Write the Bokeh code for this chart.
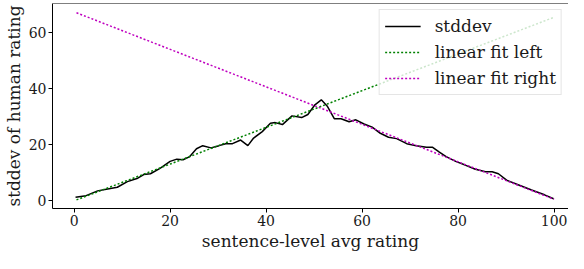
from bokeh.plotting import figure
from bokeh.models import Range1d, FixedTicker, Span
from bokeh.embed import file_html
from bokeh.resources import INLINE

# stddev curve
avg_rating = [0.3, 2.5, 4.9, 7.0, 9.0, 11.1, 13.1, 14.5, 15.9, 17.9, 20.0, 21.4, 22.7,
              24.1, 25.5, 26.8, 28.5, 30.2, 31.6, 33.0, 34.7, 36.2, 37.4, 39.2, 40.9,
              41.9, 43.4, 45.4, 47.4, 48.7, 50.1, 51.5, 52.8, 54.2, 55.6, 57.3, 58.7,
              60.4, 62.1, 63.8, 65.5, 67.2, 69.3, 71.3, 73.4, 74.7, 76.1, 77.5, 79.5,
              81.6, 83.6, 85.7, 87.1, 88.4, 90.1, 92.5, 95.3, 98.0, 99.9]
stddev = [1.3, 1.9, 3.6, 4.3, 4.9, 6.9, 8.0, 9.4, 9.7, 11.6, 14.1, 14.9, 14.7,
          15.8, 18.6, 19.7, 18.9, 19.7, 20.4, 20.4, 21.7, 19.7, 22.4, 24.7, 27.7,
          27.9, 27.2, 30.3, 29.7, 30.8, 34.1, 36.0, 33.6, 29.3, 29.3, 28.2, 28.9,
          27.4, 26.3, 24.1, 22.7, 22.2, 20.4, 19.7, 19.1, 19.1, 17.4, 15.8, 14.1,
          12.7, 11.3, 10.4, 10.4, 9.7, 7.4, 5.8, 3.9, 2.2, 0.8]

# linear fits
fit_x = [0.5, 100.0]
fit_left = [0.4, 65.4]
fit_right = [67.0, 0.6]

x_ticks = [0, 20, 40, 60, 80, 100]
y_ticks = [0, 20, 40, 60]

FONT = "DejaVu Serif"

p = figure(width=568, height=253, output_backend="svg", toolbar_location=None,
           x_range=Range1d(-4.5, 103.0), y_range=Range1d(-2.67, 70.3),
           min_border_left=52, min_border_right=0, min_border_top=3,
           min_border_bottom=45)
p.outline_line_color = None
p.grid.visible = False
p.background_fill_color = "white"

p.line(avg_rating, stddev, line_color="black", line_width=1.5, legend_label="stddev")
p.line(fit_x, fit_left, line_color="#008000", line_width=1.5, line_dash="2 2",
       legend_label="linear fit left")
p.line(fit_x, fit_right, line_color="#bf00bf", line_width=1.5, line_dash="2 2",
       legend_label="linear fit right")

p.add_layout(Span(location=p.y_range.end, dimension="width", line_color="black",
                  line_width=1.2))

for ax in (p.xaxis[0], p.yaxis[0]):
    ax.axis_line_color = "black"
    ax.axis_line_width = 1
    ax.major_tick_line_color = "black"
    ax.major_tick_in = 0
    ax.major_tick_out = 4
    ax.minor_tick_line_color = None
    ax.major_label_text_font = FONT
    ax.major_label_text_font_size = "14px"
    ax.major_label_text_color = "#1a1a1a"
    ax.axis_label_text_font = FONT
    ax.axis_label_text_font_size = "17px"
    ax.axis_label_text_font_style = "normal"
    ax.axis_label_text_color = "#1a1a1a"
    ax.major_label_standoff = 2
    ax.axis_label_standoff = 2

p.xaxis.ticker = FixedTicker(ticks=x_ticks)
p.yaxis.ticker = FixedTicker(ticks=y_ticks)
p.xaxis.axis_label = "sentence-level avg rating"
p.yaxis.axis_label = "stddev of human rating"

lg = p.legend[0]
lg.location = "top_right"
lg.margin = 6
lg.padding = 5
lg.spacing = 4
lg.glyph_width = 36
lg.glyph_height = 22
lg.label_height = 22
lg.label_standoff = 14
lg.label_text_font = FONT
lg.label_text_font_size = "17px"
lg.label_text_color = "#1a1a1a"
lg.border_line_color = "#cccccc"
lg.border_line_width = 1
lg.background_fill_color = "white"
lg.background_fill_alpha = 0.8

open("out.html", "w").write(file_html(p, INLINE))
